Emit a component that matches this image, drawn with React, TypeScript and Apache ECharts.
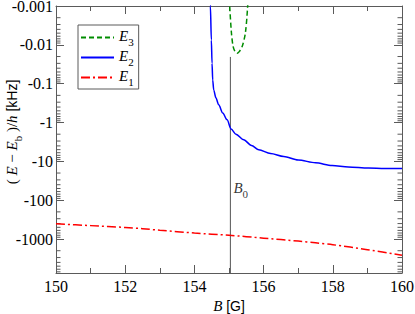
import React, { useEffect, useRef } from "react";
import * as echarts from "echarts";

// ---- data (B in gauss, E in kHz, negative) ----
const b1 = [150, 151, 152, 152.5, 153, 154, 155, 156, 157, 157.5, 158, 159, 160];
const e1 = [-405, -452, -504, -543, -595, -701, -800, -950, -1130, -1248, -1400, -1880, -2620];

const b2 = [154.45, 154.462, 154.49, 154.51, 154.529, 154.558, 154.62, 154.702, 154.82, 154.945, 155.061, 155.2, 155.425, 155.65, 155.859, 156.2, 156.582, 157.0, 157.5, 157.98, 158.45, 159.03, 159.5, 160];
const e2 = [-0.0004, -0.001, -0.0075, -0.03, -0.08, -0.145, -0.23, -0.35, -0.57, -0.855, -1.48, -2.0, -2.79, -3.9, -5.05, -6.3, -7.5, -9.2, -10.9, -12.8, -14.0, -14.9, -15.2, -15.3];

const b3 = [155.0, 155.02, 155.07, 155.12, 155.18, 155.234, 155.29, 155.38, 155.474, 155.54, 155.56];
const e3 = [-0.0004, -0.001, -0.0049, -0.0111, -0.0152, -0.0165, -0.0152, -0.0111, -0.0049, -0.001, -0.0004];

const B0 = 155.04;
const b0LineEnds = [-0.0205, -7500];
const b0LabelE = -54;

const xTicks = [150, 152, 154, 156, 158, 160];
const yTickLabels = ["-0.001", "-0.01", "-0.1", "-1", "-10", "-100", "-1000"];
const yMinorMultipliers = [2, 3, 4, 5, 6, 7, 8, 9];

const X_MIN = 150;
const X_MAX = 160;
const Y_TOP = -3; // log10(0.001)
const Y_BOTTOM = 3.875;

const lg = (e: number) => Math.log10(-e);
const axisColor = "#5a5a5a";
const serif = "Liberation Serif";
const sans = "Liberation Sans";

const richBase = {
  i: { fontFamily: serif, fontStyle: "italic", fontSize: 15, lineHeight: 16, padding: [0, 0, 4, 0], color: "#000" },
  s: { fontFamily: serif, fontSize: 11, lineHeight: 10, padding: [8, 0, 0, 0], color: "#000" },
  p: { fontFamily: serif, fontSize: 15, lineHeight: 16, padding: [0, 0, 4, 0], color: "#000" },
  q: { fontFamily: sans, fontSize: 14, lineHeight: 16, padding: [0, 0, 4, 0], color: "#000" },
  t: { fontFamily: serif, fontSize: 16, lineHeight: 12, color: "#000" },
};

export default function App() {
  const ref = useRef<HTMLDivElement>(null);
  useEffect(() => {
    const chart = echarts.init(ref.current!, null, { renderer: "svg" });
    const minorTicks: number[][] = [];
    for (let d = Y_TOP; d <= 3; d++) {
      for (const m of yMinorMultipliers) {
        const v = d + Math.log10(m);
        if (v < Y_BOTTOM) minorTicks.push([X_MIN, v]);
      }
    }
    const yLabelFmt = (v: number) => {
      const r = Math.round(v);
      if (Math.abs(v - r) > 1e-6) return "";
      const s = yTickLabels[r - Y_TOP];
      return s ? `{t|${s}}` : "";
    };
    const option: any = {
      animation: false,
      backgroundColor: "#fff",
      grid: { left: 56, right: 13, top: 6, bottom: 41, containLabel: false, outerBoundsMode: "none" },
      legend: {
        data: ["E3", "E2", "E1"],
        orient: "vertical",
        left: 78,
        top: 25,
        itemWidth: 33,
        itemHeight: 14,
        itemGap: 1,
        padding: [3, 5, 2, 2],
        borderColor: axisColor,
        borderWidth: 1,
        borderRadius: 0,
        selectedMode: false,
        itemStyle: { opacity: 0 },
        formatter: (name: string) => `{i|E}{s|${name.slice(1)}}`,
        textStyle: { rich: richBase },
      },
      xAxis: [
        {
          type: "value",
          min: X_MIN,
          max: X_MAX,
          interval: 2,
          position: "bottom",
          axisLine: { onZero: false, lineStyle: { color: axisColor, width: 1 } },
          axisTick: { inside: true, length: 8, lineStyle: { color: axisColor } },
          minorTick: { show: true, splitNumber: 2, length: 5, lineStyle: { color: axisColor } },
          splitLine: { show: false },
          axisLabel: {
            margin: 7,
            rich: richBase,
            formatter: (v: number) => (xTicks.includes(v) ? `{t|${v}}` : ""),
          },
          name: "{i|B}{q| [G]}",
          nameLocation: "middle",
          nameGap: 20,
          nameTextStyle: { rich: richBase },
        },
        {
          type: "value",
          min: X_MIN,
          max: X_MAX,
          interval: 2,
          position: "top",
          axisLine: { onZero: false, lineStyle: { color: axisColor, width: 1 } },
          axisTick: { inside: true, length: 8, lineStyle: { color: axisColor } },
          minorTick: { show: true, splitNumber: 2, length: 5, lineStyle: { color: axisColor } },
          splitLine: { show: false },
          axisLabel: { show: false },
        },
      ],
      yAxis: [
        {
          type: "value",
          inverse: true,
          min: Y_TOP,
          max: Y_BOTTOM,
          interval: 1,
          position: "left",
          axisLine: { onZero: false, lineStyle: { color: axisColor, width: 1 } },
          axisTick: { inside: true, length: 8, lineStyle: { color: axisColor } },
          splitLine: { show: false },
          axisLabel: { margin: 3, rich: richBase, formatter: yLabelFmt, showMaxLabel: false },
        },
        {
          type: "value",
          inverse: true,
          min: Y_TOP,
          max: Y_BOTTOM,
          interval: 1,
          position: "right",
          axisLine: { onZero: false, lineStyle: { color: axisColor, width: 1 } },
          axisTick: { inside: true, length: 8, lineStyle: { color: axisColor } },
          splitLine: { show: false },
          axisLabel: { show: false },
        },
      ],
      graphic: [
        {
          type: "text",
          x: 14,
          y: 132,
          rotation: Math.PI / 2,
          silent: true,
          style: {
            text: "{p|( }{i|E}{p| − }{i|E}{s|b}{p| )/}{i|h}{q| [kHz]}",
            rich: richBase,
            align: "center",
            verticalAlign: "middle",
          },
        },
      ],
      series: [
        {
          type: "custom",
          silent: true,
          xAxisIndex: 0,
          yAxisIndex: 0,
          clip: false,
          data: minorTicks,
          renderItem: (params: any, api: any) => {
            const v = api.value(1);
            const l = api.coord([X_MIN, v]);
            const r = api.coord([X_MAX, v]);
            return {
              type: "group",
              children: [
                { type: "line", shape: { x1: l[0], y1: l[1], x2: l[0] + 4.5, y2: l[1] }, style: { stroke: axisColor, lineWidth: 1 } },
                { type: "line", shape: { x1: r[0] - 4.5, y1: r[1], x2: r[0], y2: r[1] }, style: { stroke: axisColor, lineWidth: 1 } },
              ],
            };
          },
        },
        {
          type: "line",
          name: "B0line",
          silent: true,
          symbol: "none",
          data: b0LineEnds.map((e) => [B0, lg(e)]),
          lineStyle: { color: "#555", width: 1 },
        },
        {
          type: "scatter",
          name: "B0label",
          silent: true,
          symbolSize: 0,
          data: [[B0, lg(b0LabelE)]],
          label: {
            show: true,
            position: "right",
            distance: 3,
            formatter: "{i|B}{s|0}",
            rich: richBase,
          },
        },
        {
          type: "line",
          name: "E1",
          symbol: "none",
          smooth: 0.3,
          data: b1.map((b, i) => [b, lg(e1[i])]),
          lineStyle: { color: "#ff0000", width: 1.5, type: [9, 3, 2, 3] },
          itemStyle: { color: "#ff0000" },
        },
        {
          type: "line",
          name: "E2",
          symbol: "none",
          smooth: 0.3,
          smoothMonotone: "x",
          data: b2.map((b, i) => [b, lg(e2[i])]),
          lineStyle: { color: "#0000ff", width: 1.5 },
          itemStyle: { color: "#0000ff" },
        },
        {
          type: "line",
          name: "E3",
          symbol: "none",
          smooth: 0.3,
          data: b3.map((b, i) => [b, lg(e3[i])]),
          lineStyle: { color: "#008c00", width: 1.5, type: [5, 3] },
          itemStyle: { color: "#008c00" },
        },
      ],
    };
    chart.setOption(option);
    return () => chart.dispose();
  }, []);
  return (
    <div
      ref={ref}
      style={{ position: "absolute", left: 0, top: 0, width: 415, height: 314, background: "#fff" }}
    />
  );
}
